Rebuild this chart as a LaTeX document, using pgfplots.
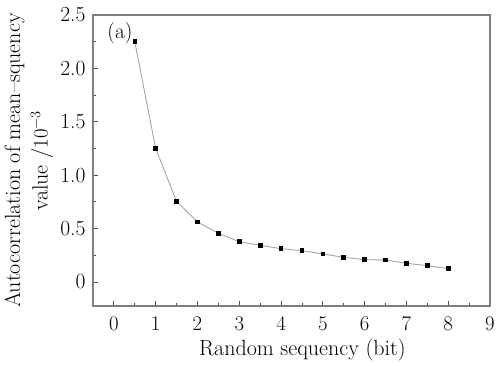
\documentclass[border=0pt]{standalone}
\usepackage{pgfplots}
\pgfplotsset{compat=1.18}
\definecolor{framegray}{RGB}{128,128,128}
\definecolor{linegray}{RGB}{165,165,165}
\begin{document}
\begin{tikzpicture}
\begin{axis}[
  scale only axis,
  width=397pt, height=291pt,
  xmin=-0.5, xmax=9, ymin=-0.225, ymax=2.5,
  axis line style={framegray, line width=1.4pt},
  xtick={0,1,...,9}, minor xtick={0.5,1.5,...,8.5},
  ytick={0,0.5,...,2.5}, minor ytick={0.25,0.75,...,2.25},
  yticklabels={0,0.5,1.0,1.5,2.0,2.5},
  xtick pos=bottom, ytick pos=left,
  tick align=inside,
  major tick length=5pt, minor tick length=3pt,
  tick style={black!70, line width=0.8pt},
  every tick label/.append style={font=\fontsize{21.5}{25}\selectfont},
  xticklabel style={yshift=-8pt},
  yticklabel style={xshift=-4pt},
  xlabel={Random sequency (bit)},
  ylabel={\setlength{\tabcolsep}{0pt}\begin{tabular}{c}Autocorrelation of mean--squency\\value /$10^{-3}$\end{tabular}},
  label style={font=\fontsize{22}{27.5}\selectfont},
  xlabel style={at={(axis description cs:0.5,0)}, anchor=north, yshift=-29pt, xshift=11pt},
  ylabel style={at={(axis description cs:-0.1625,0.5)}, anchor=center},
  clip=false,
]
\addplot[linegray, line width=0.9pt, mark=square*, mark size=1.8pt,
  mark options={black, fill=black}] coordinates {
  (0.5,2.25) (1,1.25) (1.5,0.755) (2,0.562) (2.5,0.456) (3,0.377)
  (3.5,0.343) (4,0.312) (4.5,0.293) (5,0.262) (5.5,0.231) (6,0.209)
  (6.5,0.206) (7,0.175) (7.5,0.153) (8,0.125)
};
\node[font=\fontsize{21.5}{25}\selectfont, anchor=center] at (axis description cs:0.068,0.939) {(a)};
\path (rel axis cs:0,0) ++(-93pt,-60pt) coordinate (bl);
\path (rel axis cs:1,1) ++(8pt,15pt) coordinate (tr);
\end{axis}
\pgfresetboundingbox
\path[use as bounding box] (bl) rectangle (tr);
\end{tikzpicture}
\end{document}
